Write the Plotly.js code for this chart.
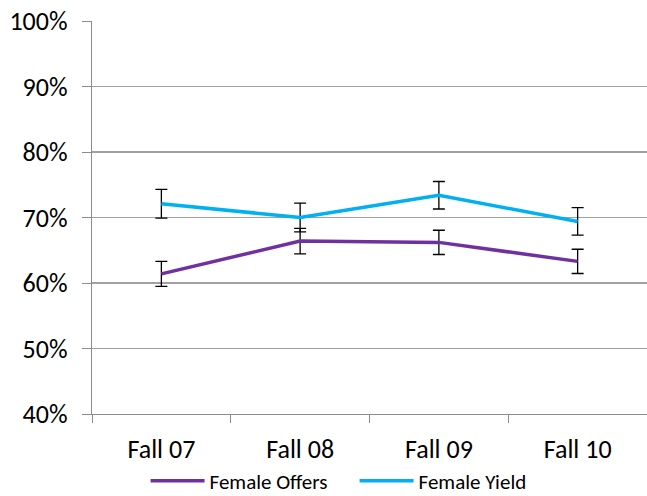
<!DOCTYPE html>
<html><head><meta charset="utf-8">
<script src="https://cdn.plot.ly/plotly-3.0.1.min.js"></script>
<style>html,body{margin:0;padding:0;background:#fff;}#c{width:647px;height:496px;}</style>
</head><body><div id="c"></div>
<script>
const categories = ["Fall 07", "Fall 08", "Fall 09", "Fall 10"];
const offers = [0.614, 0.664, 0.662, 0.633];
const offersErr = [0.019, 0.0195, 0.0185, 0.0185];
const yieldVals = [0.721, 0.700, 0.734, 0.694];
const yieldErr = [0.022, 0.022, 0.021, 0.021];
const yTicks = [0.4, 0.5, 0.6, 0.7, 0.8, 0.9, 1.0];
const yTickText = ["40%", "50%", "60%", "70%", "80%", "90%", "100%"];

const font = "Carlito, 'Open Sans', 'Noto Sans', sans-serif";
const data = [
  {x: categories, y: offers, name: "Female Offers", type: "scatter", mode: "lines",
   line: {color: "#7030A0", width: 3.5},
   error_y: {type: "data", array: offersErr, visible: true, color: "#000", thickness: 1.3, width: 6}},
  {x: categories, y: yieldVals, name: "Female Yield", type: "scatter", mode: "lines",
   line: {color: "#00B0F0", width: 3.5},
   error_y: {type: "data", array: yieldErr, visible: true, color: "#000", thickness: 1.3, width: 6}}
];
const layout = {
  width: 647, height: 496,
  margin: {l: 92, r: 0, t: 21, b: 82},
  paper_bgcolor: "#fff", plot_bgcolor: "#fff",
  font: {family: font, color: "#000"},
  showlegend: true,
  legend: {orientation: "h", xref: "container", yref: "container", x: 0.225, xanchor: "left", y: 0.03, yanchor: "middle",
           font: {size: 21, family: font}, itemwidth: 54, entrywidth: 140, entrywidthmode: "pixels", tracegroupgap: 0},
  xaxis: {type: "category", range: [-0.5, 3.5], showgrid: false, showline: true, linecolor: "#8c8c8c", linewidth: 1.3,
          ticks: "outside", tickson: "boundaries", ticklen: 8, tickcolor: "#8c8c8c", ticklabelstandoff: 11,
          tickfont: {size: 26, family: font}, fixedrange: true, automargin: false},
  yaxis: {range: [0.4, 1.0], tickvals: yTicks, ticktext: yTickText, showgrid: true, gridcolor: "#a0a0a0", gridwidth: 1.2,
          showline: true, linecolor: "#8c8c8c", linewidth: 1.3, ticks: "outside", ticklen: 9, tickcolor: "#8c8c8c",
          ticklabelstandoff: 9, tickfont: {size: 26, family: font}, zeroline: false, fixedrange: true, automargin: false}
};
Plotly.newPlot("c", data, layout, {displayModeBar: false, staticPlot: true});
</script></body></html>
